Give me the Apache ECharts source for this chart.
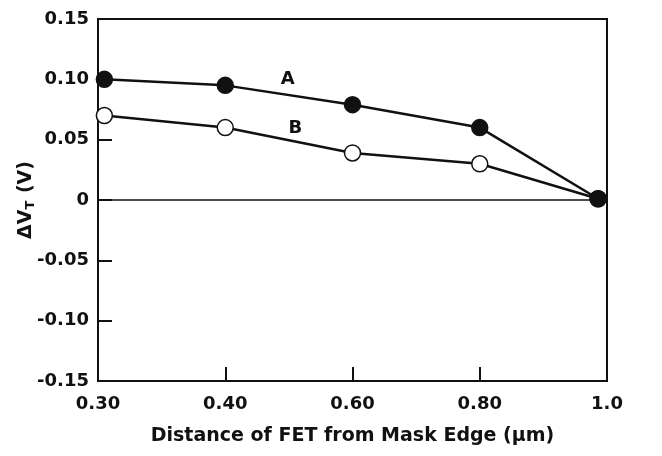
<!DOCTYPE html>
<html>
<head>
<meta charset="utf-8">
<script src="https://cdn.jsdelivr.net/npm/echarts@6/dist/echarts.min.js"></script>
<style>
  html, body { margin: 0; padding: 0; background: #fff; }
  #chart { width: 662px; height: 456px; }
</style>
</head>
<body>
<div id="chart"></div>
<script>
// Distances are drawn on equally spaced slots; each slot carries its tick label.
const xTickLabels = ['0.30', '0.40', '0.60', '0.80', '1.0'];
// Slot position of each measured FET along the distance axis
const xSlots = [0.05, 1, 2, 3, 3.93];
// Threshold voltage shift (V)
const seriesA = [0.100, 0.095, 0.079, 0.060, 0.001];
const seriesB = [0.070, 0.060, 0.039, 0.030, 0.001];
const yTickLabels = ['-0.15', '-0.10', '-0.05', '0', '0.05', '0.10', '0.15'];
const curveNames = ['A', 'B'];

const FONT = 'DejaVu Sans, Verdana, sans-serif';
const pair = (xs, ys) => xs.map((x, i) => [x, ys[i]]);

const chart = echarts.init(document.getElementById('chart'), null, { renderer: 'canvas' });

chart.setOption({
  backgroundColor: '#fff',
  animation: false,
  grid: {
    left: 98, right: 55, top: 19, bottom: 75,
    outerBoundsMode: 'none', containLabel: false,
    show: true, borderColor: '#111', borderWidth: 2
  },
  xAxis: {
    type: 'value', min: 0, max: 4, interval: 1,
    name: 'Distance of FET from Mask Edge (\u03bcm)',
    nameLocation: 'middle', nameGap: 46, nameMoveOverlap: false,
    nameTextStyle: { fontFamily: FONT, fontWeight: 'bold', fontSize: 19, color: '#111' },
    axisLine: { onZero: false, lineStyle: { color: '#111', width: 2 } },
    axisTick: { inside: true, length: 14, lineStyle: { color: '#111', width: 2 } },
    splitLine: { show: false },
    axisLabel: {
      margin: 14, fontFamily: FONT, fontWeight: 'bold', fontSize: 18, color: '#111',
      formatter: v => xTickLabels[Math.round(v)]
    }
  },
  yAxis: {
    type: 'value', min: -0.15, max: 0.15, interval: 0.05,
    name: '{d|\u0394V}{s|T}{d| (V)}',
    nameLocation: 'middle', nameGap: 59, nameRotate: 90, nameMoveOverlap: false,
    nameTextStyle: {
      fontFamily: FONT, fontWeight: 'bold', fontSize: 19, color: '#111',
      rich: {
        d: { fontFamily: FONT, fontWeight: 'bold', fontSize: 19, color: '#111', lineHeight: 26 },
        s: { fontFamily: FONT, fontWeight: 'bold', fontSize: 13, color: '#111', lineHeight: 26, padding: [10, 1, 0, 0] }
      }
    },
    axisLine: { lineStyle: { color: '#111', width: 2 } },
    axisTick: { inside: true, length: 14, lineStyle: { color: '#111', width: 2 } },
    splitLine: { show: false },
    axisLabel: {
      margin: 9, fontFamily: FONT, fontWeight: 'bold', fontSize: 18, color: '#111',
      formatter: v => yTickLabels[Math.round((v + 0.15) / 0.05)]
    }
  },
  series: [
    {
      name: curveNames[0],
      type: 'line',
      data: pair(xSlots, seriesA),
      symbol: 'circle', symbolSize: 16,
      itemStyle: { color: '#111', borderColor: '#111', borderWidth: 1.5 },
      lineStyle: { color: '#111', width: 2.5 },
      z: 4,
      markLine: {
        silent: true, symbol: 'none', label: { show: false },
        lineStyle: { color: '#111', width: 1.5, type: 'solid' },
        data: [{ yAxis: 0 }]
      },
      markPoint: {
        symbol: 'circle', symbolSize: 1, itemStyle: { color: 'transparent' },
        label: { show: true, formatter: curveNames[0], fontFamily: FONT, fontWeight: 'bold', fontSize: 18, color: '#111' },
        data: [{ coord: [1.49, 0.1003] }]
      }
    },
    {
      name: curveNames[1],
      type: 'line',
      data: pair(xSlots, seriesB),
      symbol: 'circle', symbolSize: 16,
      itemStyle: { color: '#fff', borderColor: '#111', borderWidth: 1.5 },
      lineStyle: { color: '#111', width: 2.5 },
      z: 3,
      markPoint: {
        symbol: 'circle', symbolSize: 1, itemStyle: { color: 'transparent' },
        label: { show: true, formatter: curveNames[1], fontFamily: FONT, fontWeight: 'bold', fontSize: 18, color: '#111' },
        data: [{ coord: [1.55, 0.0597] }]
      }
    }
  ]
});
</script>
</body>
</html>
